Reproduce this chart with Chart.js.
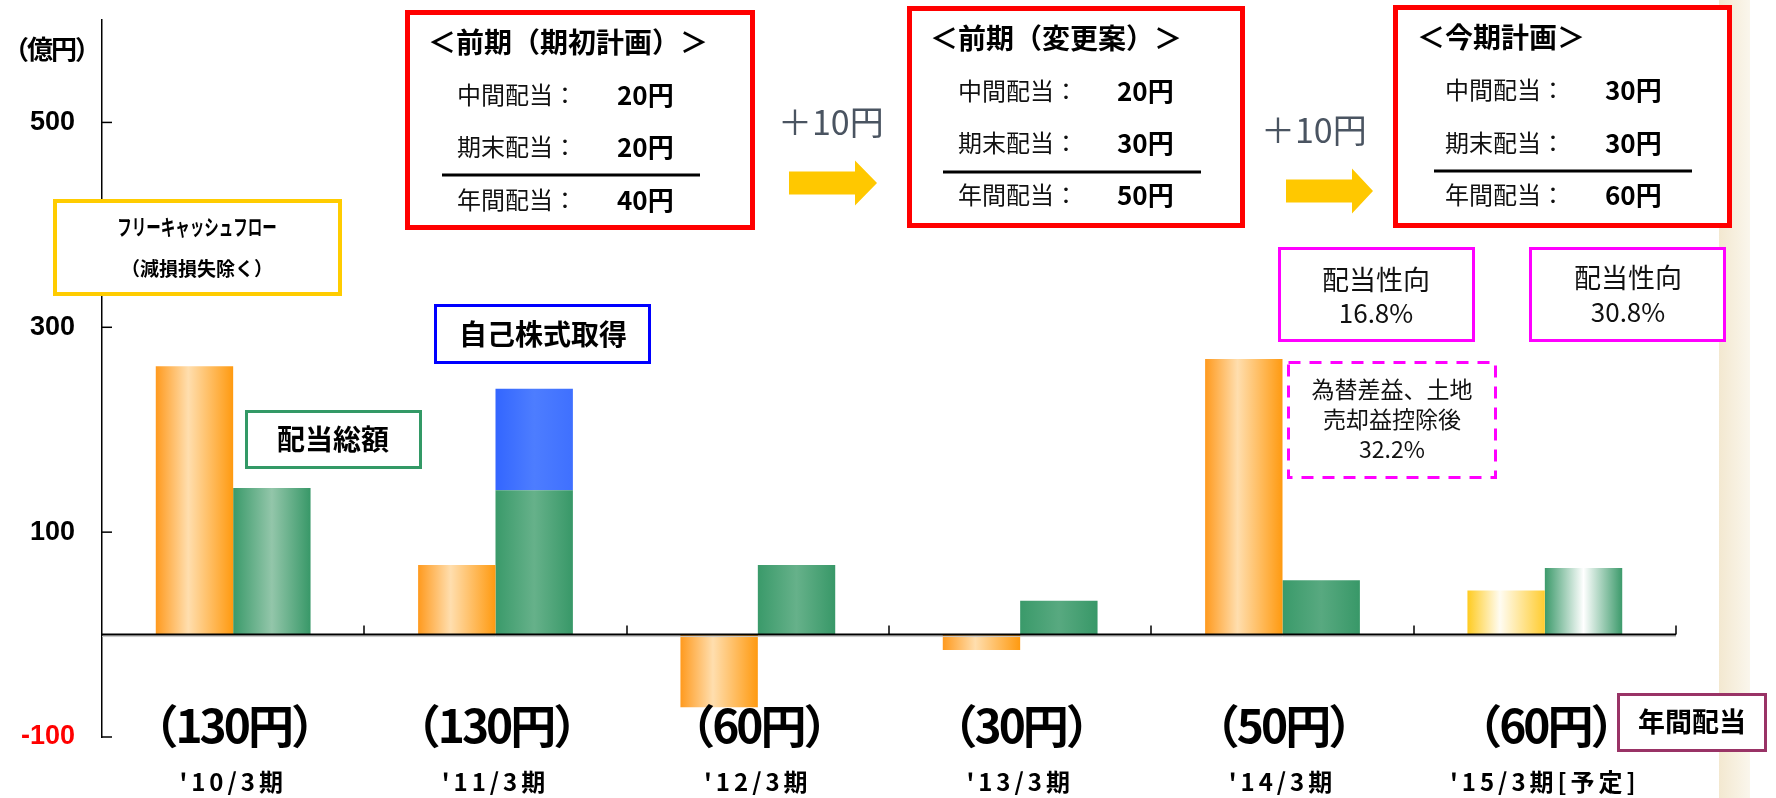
<!DOCTYPE html>
<html lang="ja">
<head>
  <meta charset="UTF-8" />
  <title>フリーキャッシュフローと株主還元</title>
  <script src="https://cdn.jsdelivr.net/npm/chart.js"></script>
  <style>
    html, body { margin: 0; padding: 0; background: #fff; }
    .wrap { width: 1776px; height: 798px; }
  </style>
</head>
<body>
  <div class="wrap"><canvas id="chart" width="1776" height="798"></canvas></div>

  <script>
    // ---- data (億円) ----
    const categories = ["'10/3期", "'11/3期", "'12/3期", "'13/3期", "'14/3期", "'15/3期[予定]"];
    const annualDiv = ['（130円）', '（130円）', '（60円）', '（30円）', '（50円）', '（60円）'];
    const freeCashFlow = [262, 68, -71, -15, 269, 43];
    const dividendTotal = [143, 141, 68, 33, 53, 65];
    const buyback = [0, 99, 0, 0, 0, 0];
    const yTicks = [-100, 100, 300, 500];

    // dividend plan boxes
    const planTitles = ['＜前期（期初計画）＞', '＜前期（変更案）＞', '＜今期計画＞'];
    const planInterim = ['20円', '20円', '30円'];
    const planYearEnd = ['20円', '30円', '30円'];
    const planAnnual = ['40円', '50円', '60円'];
    const payoutRatio = ['16.8%', '30.8%'];

    const JP = '"Noto Sans CJK JP", sans-serif';
    const CAT_PCT = 0.59;
    const FORECAST = categories.length - 1;

    // bar gradients (left edge, middle, right edge)
    const fcfMid = '#FFDEAE';
    const divMid = ['#93C6AA', '#66B18A', '#66B18A', '#58A980', '#58A980'];

    function fill(c, kind) {
      const chart = c.chart, xs = chart.scales.x;
      const i = c.dataIndex;
      let stops;
      if (kind === 'fcf') {
        stops = i === FORECAST ? ['#FFCB20', '#FFFCF2', '#FFCC30'] : ['#FF9A1E', fcfMid, '#FF9A10'];
      } else if (kind === 'div') {
        stops = i === FORECAST ? ['#3C9A6B', '#FFFFFF', '#3C9A6B'] : ['#3A9A6A', divMid[i] || '#66B18A', '#389868'];
      } else {
        stops = ['#3366FF', '#4D7DFF', '#3F70FF'];
      }
      if (c.type !== 'data' || !xs || !isFinite(xs.width) || xs.width <= 0) return stops[0];
      const catW = xs.width / categories.length;
      const half = catW * CAT_PCT / 2;
      const cx = xs.getPixelForValue(i);
      const left = kind === 'fcf' ? cx - half : cx;
      if (!isFinite(left)) return stops[0];
      const g = chart.ctx.createLinearGradient(left, 0, left + half, 0);
      g.addColorStop(0, stops[0]);
      g.addColorStop(kind === 'fcf' ? 0.42 : 0.5, stops[1]);
      g.addColorStop(1, stops[2]);
      return g;
    }

    function line(ctx, x1, y1, x2, y2) {
      ctx.beginPath(); ctx.moveTo(x1, y1); ctx.lineTo(x2, y2); ctx.stroke();
    }

    function txt(ctx, s, x, y, font, color, align) {
      ctx.font = font;
      ctx.fillStyle = color || '#000';
      ctx.textAlign = align || 'left';
      ctx.textBaseline = 'middle';
      ctx.fillText(s, x, y);
    }

    function box(ctx, x, y, w, h, color, lw, dash) {
      ctx.save();
      ctx.fillStyle = '#fff';
      ctx.fillRect(x, y, w, h);
      ctx.strokeStyle = color;
      ctx.lineWidth = lw;
      ctx.setLineDash(dash || []);
      ctx.strokeRect(x + lw / 2, y + lw / 2, w - lw, h - lw);
      ctx.restore();
    }

    function arrow(ctx, x0, x1, yc, headX, color) {
      ctx.fillStyle = color;
      ctx.beginPath();
      ctx.moveTo(x0, yc - 11.5);
      ctx.lineTo(headX, yc - 11.5);
      ctx.lineTo(headX, yc - 22.5);
      ctx.lineTo(x1, yc);
      ctx.lineTo(headX, yc + 22.5);
      ctx.lineTo(headX, yc + 11.5);
      ctx.lineTo(x0, yc + 11.5);
      ctx.closePath();
      ctx.fill();
    }

    // layout of the plan boxes
    const planBoxes = [
      { x: 405, y: 10, w: 350, h: 220, tx: 428, ty: 42, lx: 457, vx: 617, rows: [95, 147, 200], div: [442, 700, 175] },
      { x: 907, y: 6, w: 338, h: 222, tx: 930, ty: 38, lx: 958, vx: 1117, rows: [91, 143, 195], div: [943, 1201, 172] },
      { x: 1393, y: 5, w: 339, h: 223, tx: 1417, ty: 37, lx: 1445, vx: 1605, rows: [90, 143, 195], div: [1434, 1692, 171] }
    ];

    const decor = {
      id: 'decor',
      beforeDraw(chart) {
        const ctx = chart.ctx;
        const g = ctx.createLinearGradient(1719, 0, 1750, 0);
        g.addColorStop(0, '#F3E8D0');
        g.addColorStop(1, '#FAF6EC');
        ctx.fillStyle = g;
        ctx.fillRect(1719, 0, 31, chart.height);
      },
      afterDatasetsDraw(chart) {
        const { ctx, chartArea: a, scales: { x, y } } = chart;
        const y0 = y.getPixelForValue(0);
        const catW = x.width / categories.length;
        ctx.save();
        ctx.strokeStyle = '#c8c8c8'; ctx.lineWidth = 1;
        line(ctx, a.left, y0 + 2, a.right, y0 + 2);
        ctx.strokeStyle = '#000'; ctx.lineWidth = 2;
        line(ctx, a.left, y0, a.right, y0);
        ctx.lineWidth = 1.5;
        for (let k = 1; k <= categories.length; k++) {
          const px = Math.round(x.left + k * catW);
          line(ctx, px, y0, px, y0 - 9);
        }
        yTicks.forEach(v => {
          const py = y.getPixelForValue(v);
          line(ctx, a.left, py, a.left + 10, py);
        });

        // annual dividend per share + fiscal period under each group
        categories.forEach((c, i) => {
          const cx = x.getPixelForValue(i);
          ctx.letterSpacing = '-3px';
          txt(ctx, annualDiv[i], cx, 726, 'bold 46px ' + JP, '#000', 'center');
          ctx.letterSpacing = '4px';
          txt(ctx, c, cx, 782, 'bold 24px ' + JP, '#000', 'center');
          ctx.letterSpacing = '-2px';
          if (i === 0) txt(ctx, '（億円）', 51, 49, 'bold 26px ' + JP, '#000', 'center');
          ctx.letterSpacing = '0px';
        });
        ctx.restore();
      },
      afterDraw(chart) {
        const ctx = chart.ctx;
        ctx.save();

        // dividend plan boxes
        planBoxes.forEach((b, i) => {
          box(ctx, b.x, b.y, b.w, b.h, '#FF0000', 5);
          txt(ctx, planTitles[i], b.tx, b.ty, 'bold 28px ' + JP, '#000');
          const labels = ['中間配当：', '期末配当：', '年間配当：'];
          const vals = [planInterim[i], planYearEnd[i], planAnnual[i]];
          labels.forEach((l, r) => {
            txt(ctx, l, b.lx, b.rows[r], '24px ' + JP, '#111');
            txt(ctx, vals[r], b.vx, b.rows[r], 'bold 26px ' + JP, '#000');
          });
          ctx.strokeStyle = '#000'; ctx.lineWidth = 3;
          line(ctx, b.div[0], b.div[2], b.div[1], b.div[2]);
        });

        // +10円 arrows
        txt(ctx, '＋10円', 778, 122, '34px ' + JP, '#4A5461');
        arrow(ctx, 789, 877, 183, 855, '#FFC800');
        txt(ctx, '＋10円', 1261, 130, '34px ' + JP, '#4A5461');
        arrow(ctx, 1286, 1373, 191, 1352, '#FFC800');

        // payout ratio boxes
        box(ctx, 1278, 247, 197, 95, '#FF00FF', 3);
        txt(ctx, '配当性向', 1376, 280, '27px ' + JP, '#111', 'center');
        txt(ctx, payoutRatio[0], 1376, 313, '26px ' + JP, '#111', 'center');
        box(ctx, 1529, 247, 197, 95, '#FF00FF', 3);
        txt(ctx, '配当性向', 1628, 278, '27px ' + JP, '#111', 'center');
        txt(ctx, payoutRatio[1], 1628, 312, '26px ' + JP, '#111', 'center');
        box(ctx, 1287, 361, 210, 118, '#FF00FF', 3, [12, 9]);
        txt(ctx, '為替差益、土地', 1392, 389, '23px ' + JP, '#111', 'center');
        txt(ctx, '売却益控除後', 1392, 419, '23px ' + JP, '#111', 'center');
        txt(ctx, '32.2%', 1392, 449, '23px ' + JP, '#111', 'center');

        // series labels
        box(ctx, 53, 199, 289, 97, '#FFCC00', 4);
        ctx.save();
        ctx.translate(197, 227);
        ctx.scale(0.66, 1);
        txt(ctx, 'フリーキャッシュフロー', 0, 0, 'bold 22px ' + JP, '#000', 'center');
        ctx.restore();
        txt(ctx, '（減損損失除く）', 197, 269, 'bold 19px ' + JP, '#000', 'center');

        box(ctx, 245, 410, 177, 59, '#339966', 3);
        txt(ctx, '配当総額', 333, 439, 'bold 28px ' + JP, '#000', 'center');

        box(ctx, 434, 304, 217, 60, '#0000FF', 3);
        txt(ctx, '自己株式取得', 543, 334, 'bold 28px ' + JP, '#000', 'center');

        box(ctx, 1617, 693, 150, 59, '#993366', 3);
        txt(ctx, '年間配当', 1692, 722, 'bold 27px ' + JP, '#000', 'center');

        ctx.restore();
      }
    };

    const chart = new Chart(document.getElementById('chart'), {
      type: 'bar',
      data: {
        labels: categories,
        datasets: [
          { label: 'フリーキャッシュフロー', data: freeCashFlow, stack: 'fcf', backgroundColor: c => fill(c, 'fcf') },
          { label: '配当総額', data: dividendTotal, stack: 'div', backgroundColor: c => fill(c, 'div') },
          { label: '自己株式取得', data: buyback, stack: 'div', backgroundColor: c => fill(c, 'buy') }
        ]
      },
      options: {
        responsive: false,
        animation: false,
        layout: { padding: { left: 0, top: 20, right: 100, bottom: 61 } },
        datasets: { bar: { categoryPercentage: CAT_PCT, barPercentage: 1, borderWidth: 0 } },
        plugins: { legend: { display: false }, tooltip: { enabled: false } },
        scales: {
          x: { display: false, stacked: true },
          y: {
            stacked: true,
            min: -100,
            max: 600,
            afterFit: s => { s.width = 102; s.paddingTop = 0; s.paddingBottom = 0; },
            afterBuildTicks: s => { s.ticks = yTicks.map(v => ({ value: v })); },
            grid: { drawOnChartArea: false, drawTicks: false },
            border: { color: '#000', width: 1.5 },
            ticks: {
              padding: 27,
              color: c => c.tick.value < 0 ? '#FF0000' : '#000',
              font: { family: 'Liberation Sans', size: 27, weight: 'bold' }
            }
          }
        }
      },
      plugins: [decor]
    });
  </script>
</body>
</html>
